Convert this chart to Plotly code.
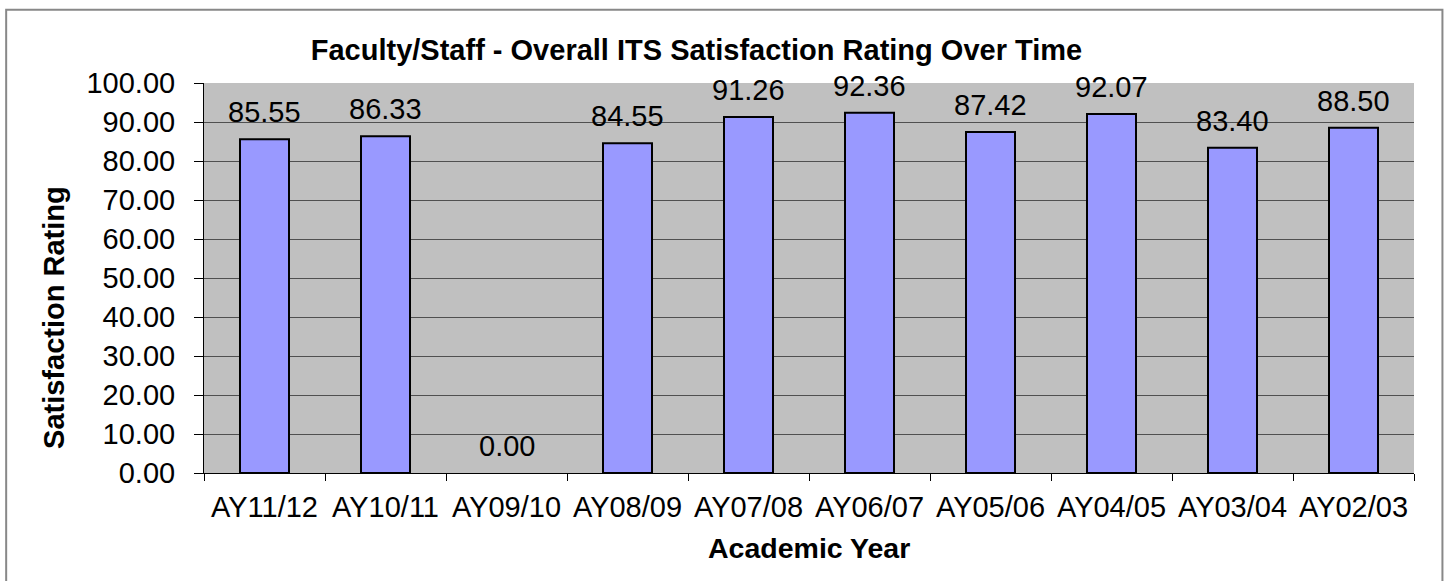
import plotly.graph_objects as go

categories = ["AY11/12", "AY10/11", "AY09/10", "AY08/09", "AY07/08",
              "AY06/07", "AY05/06", "AY04/05", "AY03/04", "AY02/03"]
ratings = [85.55, 86.33, 0.00, 84.55, 91.26, 92.36, 87.42, 92.07, 83.40, 88.50]

title_text = "Faculty/Staff - Overall ITS Satisfaction Rating Over Time"
x_title = "Academic Year"
y_title = "Satisfaction Rating"

FONT = "Liberation Sans, Arial, sans-serif"

fig = go.Figure()
fig.add_trace(go.Bar(
    x=categories, y=ratings,
    marker=dict(color="#9999FF",
                line=dict(color="#000000", width=[0 if v == 0 else 2 for v in ratings])),
    hoverinfo="x+y",
))

annotations = []
for c, v in zip(categories, ratings):
    annotations.append(dict(
        x=c, y=v, xref="x", yref="y", text=f"{v:.2f}", showarrow=False,
        yanchor="bottom", xanchor="center", yshift=9,
        font=dict(family=FONT, size=29, color="#000000"),
    ))

annotations.append(dict(
    x=0.5, y=-0.192, xref="paper", yref="paper", text=f"<b>{x_title}</b>",
    showarrow=False, xanchor="center", yanchor="middle",
    font=dict(family=FONT, size=28.5, color="#000000"),
))
annotations.append(dict(
    x=-0.124, y=0.40, xref="paper", yref="paper", text=f"<b>{y_title}</b>",
    showarrow=False, xanchor="center", yanchor="middle", textangle=-90,
    font=dict(family=FONT, size=29, color="#000000"),
))

fig.update_layout(
    width=1447, height=581,
    margin=dict(l=204, r=33, t=83, b=108),
    paper_bgcolor="#FFFFFF",
    plot_bgcolor="#C0C0C0",
    bargap=0.595,
    showlegend=False,
    title=dict(
        text=f"<b>{title_text}</b>",
        x=0.407, xref="paper", xanchor="center",
        y=1 - 50 / 581, yref="container", yanchor="middle",
        font=dict(family=FONT, size=29, color="#000000"),
    ),
    annotations=annotations,
    shapes=[dict(
        type="rect", xref="paper", yref="paper",
        x0=-0.1635, x1=1.0235, y0=-0.40, y1=1.188,
        line=dict(color="#888888", width=2), fillcolor="rgba(0,0,0,0)",
        layer="below",
    )],
)

fig.update_xaxes(
    type="category",
    showgrid=False,
    showline=True, linecolor="#000000", linewidth=1,
    ticks="outside", tickson="boundaries", ticklen=7, tickcolor="#000000",
    tickfont=dict(family=FONT, size=29, color="#000000"),
    ticklabelstandoff=8,
    mirror=False,
)
fig.update_yaxes(
    range=[0, 100], dtick=10, tickformat=".2f",
    showgrid=True, gridcolor="#505050", gridwidth=1,
    showline=True, linecolor="#000000", linewidth=1,
    ticks="outside", ticklen=9, tickcolor="#000000",
    tickfont=dict(family=FONT, size=29, color="#000000"),
    ticklabelstandoff=13,
    zeroline=False,
)

fig.write_html("out.html", config={"displayModeBar": False},
               post_script="document.body.style.margin='0';")
